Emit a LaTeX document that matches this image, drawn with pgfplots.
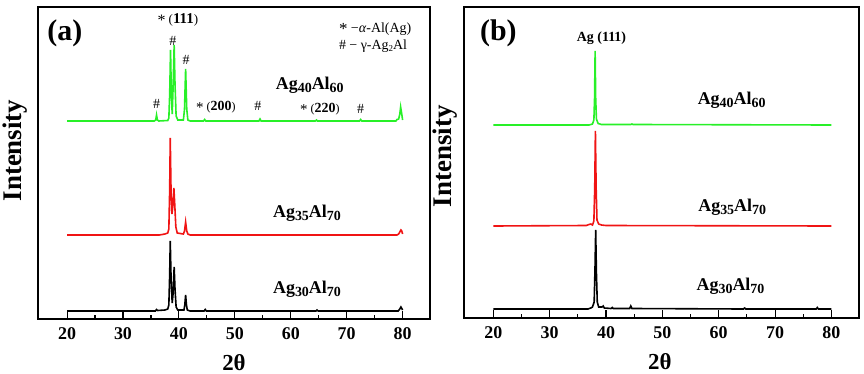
\documentclass[border=0pt]{standalone}
\usepackage{fontspec}
\setmainfont{Liberation Serif}
\usepackage{pgfplots}
\pgfplotsset{compat=1.18}
\definecolor{xgreen}{RGB}{40,240,40}
\definecolor{xred}{RGB}{240,20,20}
\newcommand\sub[1]{\raisebox{-0.45ex}{\fontsize{14}{14}\selectfont #1}}
\newcommand\lab[2]{Ag\sub{#1}Al\sub{#2}}
\pgfplotsset{
  xrdaxis/.style={
    scale only axis,
    xmin=14.8, xmax=84.9, ymin=0,
    ytick=\empty, xtick pos=bottom, tick align=inside,
    major tick length=8bp, minor tick length=4bp,
    axis line style={line width=1.3bp},
    xlabel={2θ},
    xlabel style={font=\bfseries\fontsize{23}{23}\selectfont, anchor=center, inner sep=0pt},
    ylabel={Intensity},
    ylabel style={font=\bfseries\fontsize{27}{27}\selectfont, anchor=center, inner sep=0pt},
    every axis plot/.append style={line width=1.6bp, mark=none},
  }
}
\begin{document}
\begin{tikzpicture}
\path[use as bounding box] (0,0) rectangle (864bp,-374bp);
% ---------------- panel (a)
\begin{axis}[xrdaxis, at={(38bp,-319bp)}, anchor=south west,
  width=392bp, height=312bp, ymax=312,
  xtick={20,30,40,50,60,70,80}, minor xtick={25,35,45,55,65,75},
  xticklabels={20,30,40,50,60,70,80},
  x tick label style={font=\bfseries\fontsize{18}{18}\selectfont, yshift=-5bp},
  major tick style={line width=1.1bp, black}, minor tick style={line width=1.1bp, black},
  xlabel style={at={(axis description cs:0.5,-0.14)}},
  ylabel style={at={(axis description cs:-0.059,0.54)}}]
\addplot[black] coordinates {(20,8) (35.8,8) (36.0,9.5) (36.2,8.5) (37.5,9) (38.0,10) (38.2,14) (38.35,45) (38.45,78) (38.6,40) (38.8,16) (38.95,25) (39.15,52) (39.3,30) (39.5,12) (39.8,9) (40.9,9) (41.05,14) (41.2,24) (41.35,14) (41.5,9) (42,8) (44.5,8) (44.7,9.5) (44.9,8) (64.5,8) (64.7,9) (64.9,8) (79.2,8) (79.5,10) (79.7,12) (79.9,10) (80,9)};
\addplot[xred] coordinates {(20,84) (36.5,84) (37.0,84.5) (37.5,85) (38.0,86) (38.2,90) (38.35,130) (38.45,181) (38.6,125) (38.75,105) (38.9,112) (39.1,131) (39.25,115) (39.45,92) (39.7,86) (40.8,85) (41.0,88) (41.2,97) (41.4,88) (41.6,85) (42,84) (79.0,84) (79.3,85) (79.5,87) (79.7,89) (79.85,88) (80,85)};
\addplot[xgreen] coordinates {(20,198) (35.6,198) (35.85,199) (36.0,204) (36.15,199) (36.4,198) (38.0,198.5) (38.2,201) (38.35,225) (38.5,269) (38.65,225) (38.8,205) (38.95,230) (39.15,274) (39.3,235) (39.5,203) (39.8,199) (40.8,199) (41.0,210) (41.2,250) (41.4,210) (41.6,199) (42,198) (44.4,198) (44.6,199.5) (44.8,198) (54.3,198) (54.5,200) (54.7,198) (64.4,198) (64.6,199) (64.8,198) (72.3,198) (72.5,199.5) (72.7,198) (78.8,198) (79.0,199.5) (79.3,200) (79.5,205) (79.65,212) (79.85,205) (80,199)};
\node[font=\bfseries\fontsize{30}{30}\selectfont] at (axis cs:19.6,286) {(a)};
\node[font=\fontsize{13}{13}\selectfont] at (axis cs:39.8,299) {\raisebox{-0.35ex}{\fontsize{16}{16}\selectfont *} (\textbf{\fontsize{15}{15}\selectfont 111})};
\node[font=\fontsize{14}{14}\selectfont] at (axis cs:38.9,278) {\#};
\node[font=\fontsize{14}{14}\selectfont] at (axis cs:41.3,259) {\#};
\node[font=\fontsize{14}{14}\selectfont] at (axis cs:36.0,215) {\#};
\node[font=\fontsize{14}{14}\selectfont] at (axis cs:54.1,213) {\#};
\node[font=\fontsize{14}{14}\selectfont] at (axis cs:72.5,210) {\#};
\node[font=\fontsize{12}{12}\selectfont] at (axis cs:46.6,212) {\raisebox{-0.35ex}{\fontsize{15}{15}\selectfont *} (\textbf{\fontsize{14}{14}\selectfont 200})};
\node[font=\fontsize{12}{12}\selectfont] at (axis cs:65.2,210) {\raisebox{-0.35ex}{\fontsize{15}{15}\selectfont *} (\textbf{\fontsize{14}{14}\selectfont 220})};
\node[font=\fontsize{14}{14}\selectfont, anchor=west] at (axis cs:68.0,290) {\raisebox{-0.35ex}{\fontsize{17}{17}\selectfont *} −\textit{α}-Al(Ag)};
\node[font=\fontsize{14}{14}\selectfont, anchor=west] at (axis cs:68.0,273) {\# − γ-Ag\raisebox{-0.4ex}{\fontsize{9}{9}\selectfont 2}Al};
\node[font=\bfseries\fontsize{18}{18}\selectfont] at (axis cs:63.4,234) {\lab{40}{60}};
\node[font=\bfseries\fontsize{18}{18}\selectfont] at (axis cs:62.9,106) {\lab{35}{70}};
\node[font=\bfseries\fontsize{18}{18}\selectfont] at (axis cs:62.9,30) {\lab{30}{70}};
\end{axis}
% ---------------- panel (b)
\begin{axis}[xrdaxis, at={(464bp,-318bp)}, anchor=south west,
  width=395bp, height=311bp, ymax=311,
  xtick={20,30,40,50,60,70,80}, minor xtick={25,35,45,55,65,75},
  xticklabels={20,30,40,50,60,70,80},
  x tick label style={font=\bfseries\fontsize{18}{18}\selectfont, yshift=-5bp},
  major tick style={line width=1.1bp, black}, minor tick style={line width=1.1bp, black},
  xlabel style={at={(axis description cs:0.496,-0.14)}},
  ylabel style={at={(axis description cs:-0.048,0.52)}}]
\addplot[black] coordinates {(20,9) (36.8,9) (37.3,10) (37.6,11) (37.9,16) (38.05,50) (38.17,88) (38.3,45) (38.45,16) (38.7,11) (39.3,11) (39.5,12) (39.7,10) (40.9,9.5) (41.1,10.5) (41.3,9.5) (44.2,9.5) (44.4,12) (44.6,9.5) (64.4,9) (64.6,10) (64.8,9) (77.3,9) (77.5,10.5) (77.7,9) (80,9)};
\addplot[xred] coordinates {(20,92) (36.5,92.5) (37.0,93.5) (37.3,94) (37.6,93) (37.85,97) (38.0,130) (38.12,187) (38.25,130) (38.4,98) (38.7,94) (39.2,93) (40,92.5) (80,92)};
\addplot[xgreen] coordinates {(20,193) (37.0,193) (37.6,194) (37.85,198) (37.97,220) (38.07,267) (38.17,220) (38.3,199) (38.6,194.5) (39.2,193.5) (44.4,193.5) (44.6,194) (44.8,193.5) (80,193)};
\node[font=\bfseries\fontsize{30}{30}\selectfont] at (axis cs:20.9,285) {(b)};
\node[font=\bfseries\fontsize{14}{14}\selectfont] at (axis cs:39.2,280) {Ag (111)};
\node[font=\bfseries\fontsize{18}{18}\selectfont] at (axis cs:62.3,218) {\lab{40}{60}};
\node[font=\bfseries\fontsize{18}{18}\selectfont] at (axis cs:62.4,111) {\lab{35}{70}};
\node[font=\bfseries\fontsize{18}{18}\selectfont] at (axis cs:62.1,32) {\lab{30}{70}};
\end{axis}
\end{tikzpicture}
\end{document}
